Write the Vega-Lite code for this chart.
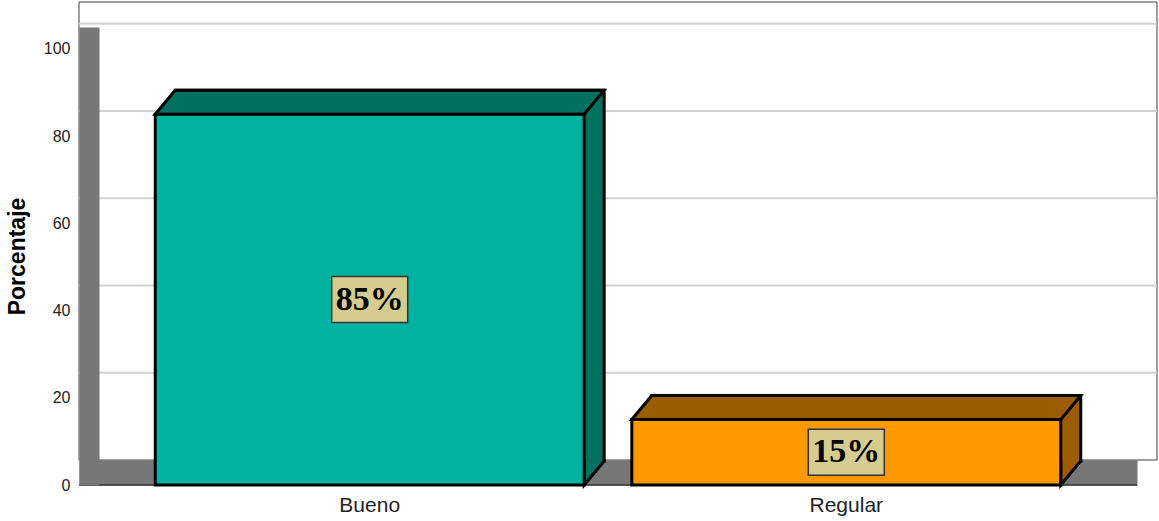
{
  "$schema": "https://vega.github.io/schema/vega-lite/v6.json",
  "width": 1058,
  "height": 458,
  "autosize": {"type": "none"},
  "padding": {"left": 79, "top": 27, "right": 22, "bottom": 36},
  "background": "white",
  "config": {"view": {"stroke": null}},
  "datasets": {
    "main": [
      {"categoria": "Bueno", "porcentaje": 85},
      {"categoria": "Regular", "porcentaje": 15}
    ],
    "marcas": [{"v": 20}, {"v": 40}, {"v": 60}, {"v": 80}, {"v": 100}]
  },
  "resolve": {"scale": {"y": "independent"}, "axis": {"y": "independent"}},
  "layer": [
    {
      "data": {"name": "main"},
      "mark": {"type": "bar", "opacity": 0},
      "encoding": {
        "x": {
          "field": "categoria", "type": "nominal",
          "scale": {"paddingInner": 0.1, "paddingOuter": 0.16},
          "axis": {"orient": "bottom", "title": null, "labelAngle": 0, "domainColor": "#777777", "domainWidth": 25, "offset": -12.5, "ticks": false, "tickSize": 0, "labelPadding": 22, "labelFont": "Liberation Sans", "labelFontSize": 21, "labelColor": "#222222", "zindex": 0}
        },
        "y": {
          "field": "porcentaje", "type": "quantitative",
          "scale": {"domain": [0, 105], "nice": false},
          "axis": {"orient": "left", "title": "Porcentaje", "values": [0, 20, 40, 60, 80, 100], "grid": false, "domainColor": "#777777", "domainWidth": 20, "offset": -10, "ticks": false, "tickSize": 0, "labelPadding": 19, "labelFont": "Liberation Sans", "labelFontSize": 16, "labelColor": "#222222", "titleFont": "Liberation Sans", "titleFontSize": 23, "titleFontWeight": "bold", "titleColor": "black", "titlePadding": 14, "zindex": 1}
        }
      }
    },
    {
      "data": {"values": [{}]},
      "mark": {"type": "rect", "fill": "white", "stroke": "#404040", "strokeWidth": 1, "xOffset": 20, "x2Offset": 20, "yOffset": -25, "y2Offset": -25},
      "encoding": {
        "y": {"datum": 0, "type": "quantitative", "scale": {"domain": [0, 105], "nice": false}, "axis": null},
        "y2": {"datum": 105}
      }
    },
    {
      "data": {"name": "marcas"},
      "mark": {"type": "rule", "color": "#d2d2d2", "strokeWidth": 2, "xOffset": 20, "x2Offset": 20, "yOffset": -25},
      "encoding": {
        "y": {"field": "v", "type": "quantitative", "scale": {"domain": [0, 105], "nice": false}, "axis": null}
      }
    },
    {
      "data": {"values": [{}]},
      "mark": {"type": "rule", "color": "#333333", "strokeWidth": 1.5},
      "encoding": {
        "y": {"datum": 0, "type": "quantitative", "scale": {"domain": [0, 105], "nice": false}, "axis": null}
      }
    },
    {
      "data": {"name": "main"},
      "mark": {"type": "bar", "stroke": "black", "strokeWidth": 3, "xOffset": 20, "yOffset": -24, "y2Offset": -24},
      "encoding": {
        "x": {"field": "categoria", "type": "nominal"},
        "y": {"field": "porcentaje", "type": "quantitative", "scale": {"domain": [0, 105], "nice": false}, "axis": null},
        "color": {"field": "categoria", "type": "nominal", "scale": {"domain": ["Bueno", "Regular"], "range": ["#00705F", "#9C5C00"]}, "legend": null}
      }
    },
    {
      "data": {"name": "main"},
      "mark": {"type": "point", "shape": "M-214.5,0L-194.5,-24L234.5,-24L214.5,0Z", "size": 4, "filled": true, "opacity": 1, "stroke": "black", "strokeWidth": 3},
      "encoding": {
        "x": {"field": "categoria", "type": "nominal"},
        "y": {"field": "porcentaje", "type": "quantitative", "scale": {"domain": [0, 105], "nice": false}, "axis": null},
        "color": {"field": "categoria", "type": "nominal", "scale": {"domain": ["Bueno", "Regular"], "range": ["#00705F", "#9C5C00"]}, "legend": null}
      }
    },
    {
      "data": {"name": "main"},
      "mark": {"type": "point", "shape": "M214.5,-26L214.5,0L234.5,-24L234.5,-26", "size": 4, "filled": true, "opacity": 1, "stroke": "black", "strokeWidth": 3},
      "encoding": {
        "x": {"field": "categoria", "type": "nominal"},
        "y": {"datum": 0, "type": "quantitative", "scale": {"domain": [0, 105], "nice": false}, "axis": null},
        "color": {"field": "categoria", "type": "nominal", "scale": {"domain": ["Bueno", "Regular"], "range": ["#00705F", "#9C5C00"]}, "legend": null}
      }
    },
    {
      "data": {"name": "main"},
      "mark": {"type": "bar", "stroke": "black", "strokeWidth": 3},
      "encoding": {
        "x": {"field": "categoria", "type": "nominal"},
        "y": {"field": "porcentaje", "type": "quantitative", "scale": {"domain": [0, 105], "nice": false}, "axis": null},
        "fill": {"field": "categoria", "type": "nominal", "scale": {"domain": ["Bueno", "Regular"], "range": ["#00B3A1", "#FF9900"]}, "legend": null}
      }
    },
    {
      "data": {"name": "main"},
      "mark": {"type": "point", "shape": "M-38,-23L38,-23L38,23L-38,23Z", "size": 4, "filled": true, "opacity": 1, "fill": "#D5CD8F", "stroke": "#333333", "strokeWidth": 1.5},
      "encoding": {
        "x": {"field": "categoria", "type": "nominal"},
        "y": {"field": "porcentaje", "type": "quantitative", "scale": {"domain": [0, 210], "nice": false}, "axis": null}
      }
    },
    {
      "data": {"name": "main"},
      "mark": {"type": "text", "text": {"expr": "datum.porcentaje + '%'"}, "font": "Liberation Serif", "fontWeight": "bold", "fontSize": 34, "align": "center", "baseline": "middle", "color": "black"},
      "encoding": {
        "x": {"field": "categoria", "type": "nominal"},
        "y": {"field": "porcentaje", "type": "quantitative", "scale": {"domain": [0, 210], "nice": false}, "axis": null}
      }
    }
  ]
}
